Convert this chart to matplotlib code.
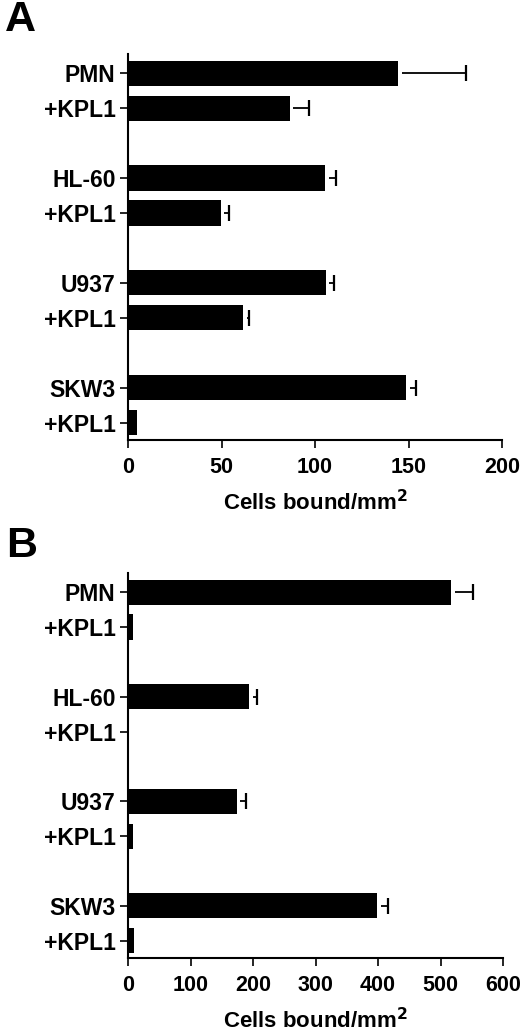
import matplotlib
matplotlib.use("Agg")
import matplotlib.pyplot as plt
import numpy as np

plt.rcParams['font.family'] = ['Liberation Sans', 'DejaVu Sans']
plt.rcParams['font.weight'] = 'bold'

labels = ["PMN", "+KPL1", "HL-60", "+KPL1", "U937", "+KPL1", "SKW3", "+KPL1"]
positions = [0, 1, 3, 4, 6, 7, 9, 10]

values_a = [144.5, 86.6, 105.5, 49.5, 105.7, 61.6, 148.8, 4.6]
errors_a = [36, 10, 5.5, 4.5, 4.5, 3.2, 5.0, 0]
values_b = [517, 8, 194, 1.5, 174, 8, 399, 9]
errors_b = [35, 0, 13, 0, 14, 0, 17, 0]

xticks_a = [0, 50, 100, 150, 200]
xticks_b = [0, 100, 200, 300, 400, 500, 600]
xlabel = "Cells bound/mm$^{\\mathbf{2}}$"

W, H = 520, 1034
fig = plt.figure(figsize=(W / 100, H / 100), dpi=100)


def panel(rect, vals, errs, xticks, letter, letter_xy):
    ax = fig.add_axes(rect)
    ax.barh(positions, vals, height=0.72, color="black", edgecolor="black", linewidth=0)
    err_idx = [i for i, e in enumerate(errs) if e > 0]
    gap = (xticks[-1] - xticks[0]) * 0.009
    ys = [positions[i] for i in err_idx]
    x0 = [vals[i] + gap for i in err_idx]
    x1 = [vals[i] + errs[i] for i in err_idx]
    ax.hlines(ys, x0, x1, colors="black", linewidth=1.3)
    ax.plot(x1, ys, linestyle="none", marker="|", markersize=11,
            markeredgewidth=1.6, color="black")
    ax.set_xlim(xticks[0], xticks[-1])
    ax.set_ylim(10.5, -0.55)
    ax.set_yticks(positions)
    ax.set_yticklabels(labels, fontsize=16.5, fontweight="bold")
    ax.set_xticks(xticks)
    ax.set_xticklabels([str(t) for t in xticks], fontsize=15.5, fontweight="bold")
    ax.set_xlabel(xlabel, fontsize=16, fontweight="bold", labelpad=9)
    for s in ["top", "right"]:
        ax.spines[s].set_visible(False)
    for s in ["left", "bottom"]:
        ax.spines[s].set_linewidth(1.5)
    ax.tick_params(axis="both", length=6, width=1.2, direction="out")
    ax.tick_params(axis="x", pad=6)
    ax.tick_params(axis="y", pad=3)
    fig.text(letter_xy[0], letter_xy[1], letter, fontsize=31, fontweight="bold",
             ha="left", va="top")
    return ax


panel([128 / W, 1 - 440 / H, 374 / W, 386 / H], values_a, errors_a, xticks_a,
      "A", (5 / W, 1 - 0 / H))
panel([128 / W, 1 - 958 / H, 375 / W, 385 / H], values_b, errors_b, xticks_b,
      "B", (6 / W, 1 - 526 / H))

fig.savefig("out.png", dpi=100)
